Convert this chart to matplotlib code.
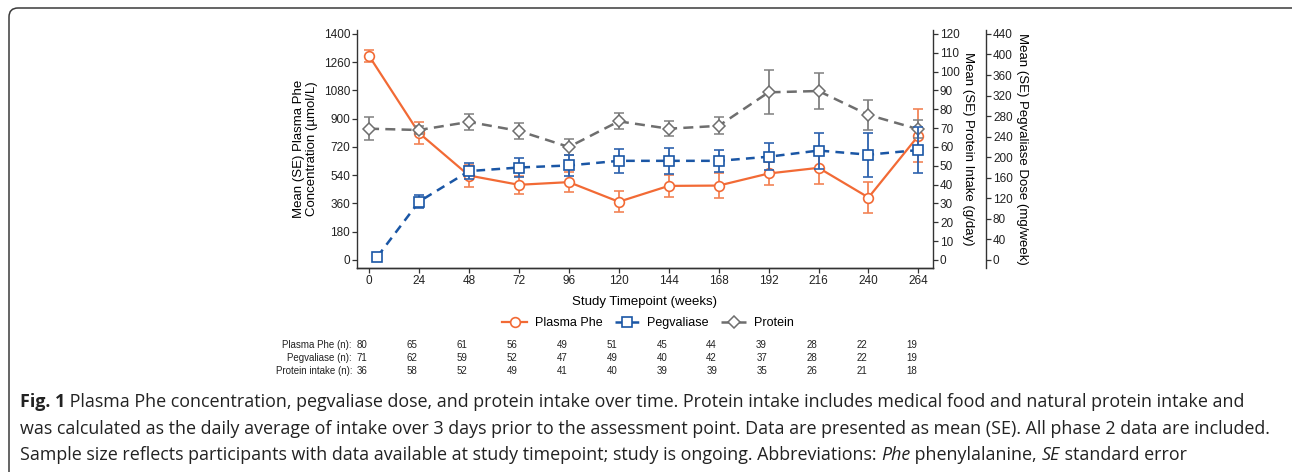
import matplotlib
matplotlib.use("Agg")
import matplotlib.pyplot as plt
import matplotlib.transforms as mtransforms
from matplotlib.patches import FancyBboxPatch
from matplotlib.lines import Line2D

plt.rcParams['font.family'] = ['Liberation Sans', 'DejaVu Sans']

weeks = [0, 24, 48, 72, 96, 120, 144, 168, 192, 216, 240, 264]
peg_weeks = [4, 24, 48, 72, 96, 120, 144, 168, 192, 216, 240, 264]

phe_mean = [1300, 809, 538, 479, 496, 371, 472, 474, 551, 587, 398, 792]
phe_se = [36, 67, 70, 58, 64, 68, 72, 80, 75, 100, 100, 167]

peg_mean = [6.5, 113.6, 173, 180, 184, 193, 193, 193, 201, 213, 205, 214]
peg_se = [0, 12, 15, 18, 21, 23, 25, 22, 26, 35, 43, 45]

protein_mean = [69.7, 69.0, 73.3, 68.5, 60.0, 73.6, 69.7, 71.2, 89.0, 89.7, 77.0, 69.4]
protein_se = [6.2, 2.0, 4.4, 4.3, 4.4, 4.3, 4.0, 4.5, 11.7, 9.8, 8.0, 4.7]

phe_ticks = [0, 180, 360, 540, 720, 900, 1080, 1260, 1440]
phe_tick_labels = ['0', '180', '360', '540', '720', '900', '1080', '1260', '1400']
protein_ticks = list(range(0, 121, 10))
peg_ticks = list(range(0, 441, 40))

n_labels = ['Plasma Phe (n):', 'Pegvaliase (n):', 'Protein intake (n):']
phe_n = [80, 65, 61, 56, 49, 51, 45, 44, 39, 28, 22, 19]
peg_n = [71, 62, 59, 52, 47, 49, 40, 42, 37, 28, 22, 19]
protein_n = [36, 58, 52, 49, 41, 40, 39, 39, 35, 26, 21, 18]

caption_lines = [
    [("Fig. 1", 'bold', 'normal'),
     (" Plasma Phe concentration, pegvaliase dose, and protein intake over time. "
      "Protein intake includes medical food and natural protein intake and", 'normal', 'normal')],
    [("was calculated as the daily average of intake over 3 days prior to the assessment point. "
      "Data are presented as mean (SE). All phase 2 data are included.", 'normal', 'normal')],
    [("Sample size reflects participants with data available at study timepoint; study is ongoing. "
      "Abbreviations: ", 'normal', 'normal'),
     ("Phe", 'normal', 'italic'), (" phenylalanine, ", 'normal', 'normal'),
     ("SE", 'normal', 'italic'), (" standard error", 'normal', 'normal')],
]

orange = '#F26A35'
blue = '#1A56A5'
gray = '#6E6E6E'
spine_c = '#333333'

W, H = 1292, 472
fig = plt.figure(figsize=(W / 100, H / 100), dpi=100)
ax = fig.add_axes([357 / W, 1 - 268 / H, 576 / W, 238 / H])
ax2 = ax.twinx()
ax3 = ax.twinx()

lo, hi = -51, 1465
ax.set_ylim(lo, hi)
ax2.set_ylim(lo / 12, hi / 12)
ax3.set_ylim(lo * 440 / 1440, hi * 440 / 1440)
ax.set_xlim(-5.8, 271)

phe_style = dict(color=orange, lw=1.6, marker='o', ms=7, mfc='white', mec=orange, mew=1.2)
protein_style = dict(color=gray, lw=1.8, ls=(0, (4, 2.5)), marker='D', ms=6.5,
                     mfc='white', mec=gray, mew=1.1)
peg_style = dict(color=blue, lw=1.8, ls=(0, (3.5, 2.5)), marker='s', ms=6.5,
                 mfc='white', mec=blue, mew=1.2)

ax.errorbar(weeks, phe_mean, yerr=phe_se, ecolor='#F28456', elinewidth=1.3,
            capsize=3.6, capthick=1.3, zorder=3, **phe_style)
ax2.errorbar(weeks, protein_mean, yerr=protein_se, ecolor='#808080', elinewidth=1.3,
             capsize=3.6, capthick=1.3, zorder=3, **protein_style)
ax3.errorbar(peg_weeks, peg_mean, yerr=peg_se, ecolor='#2D62AE', elinewidth=1.3,
             capsize=3.6, capthick=1.3, zorder=3, **peg_style)

for a in (ax, ax2, ax3):
    a.spines['top'].set_visible(False)
    for s in a.spines.values():
        s.set_color(spine_c)
        s.set_linewidth(1.0)
    a.tick_params(direction='out', length=3.5, width=0.9, colors=spine_c,
                  labelsize=8.5, labelcolor='#222222', pad=1.5)

ax.spines['right'].set_visible(False)
ax2.spines['left'].set_visible(False)
ax3.spines['left'].set_visible(False)
ax3.spines['bottom'].set_visible(False)
ax3.spines['right'].set_position(('outward', 53 * 0.72))

ax.set_xticks(weeks)
ax.set_xticklabels([str(w) for w in weeks])
ax.set_yticks(phe_ticks)
ax.set_yticklabels(phe_tick_labels)
ax2.set_yticks(protein_ticks)
ax3.set_yticks(peg_ticks)

ax.set_xlabel('Study Timepoint (weeks)', fontsize=9.5)
ax.xaxis.set_label_coords(0.5, -0.118)
ax.set_ylabel('Mean (SE) Plasma Phe\nConcentration (\u00b5mol/L)', fontsize=9.5, linespacing=1.05)
ax.yaxis.set_label_coords(-0.068, 0.5)
ax2.set_ylabel('Mean (SE) Protein Intake (g/day)', fontsize=9.5, rotation=270, va='center')
ax2.yaxis.set_label_coords(1.061, 0.5)
ax3.set_ylabel('Mean (SE) Pegvaliase Dose (mg/week)', fontsize=9.5, rotation=270, va='center')
ax3.yaxis.set_label_coords(1.1545, 0.5)

handles = [Line2D([], [], **phe_style), Line2D([], [], **peg_style),
           Line2D([], [], **protein_style)]
labels = ['Plasma Phe', 'Pegvaliase', 'Protein']
fig.legend(handles, labels, loc='center', bbox_to_anchor=(648 / W, 1 - 323 / H), ncol=3,
           frameon=False, fontsize=9, handlelength=2.0, columnspacing=1.0, handletextpad=0.6)

# sample size table
trans = mtransforms.blended_transform_factory(ax.transData, fig.transFigure)
trans = trans + mtransforms.ScaledTranslation(-7 / 100, 0, fig.dpi_scale_trans)
rows_y = [345, 358, 371]
for lab, vals, yy in zip(n_labels, [phe_n, peg_n, protein_n], rows_y):
    fig.text(352 / W, 1 - yy / H, lab, ha='right', va='center', fontsize=7, color='#222222')
    for w, v in zip(weeks, vals):
        fig.text(w, 1 - yy / H, str(v), ha='center', va='center', fontsize=7,
                 color='#222222', transform=trans)

# frame around figure + caption
box = FancyBboxPatch((9, -30), 1320, H - 8 + 30, boxstyle='round,pad=0,rounding_size=9',
                     transform=mtransforms.IdentityTransform(), fill=False,
                     ec='#3a3a3a', lw=1.1)
fig.add_artist(box)

renderer = fig.canvas.get_renderer()
cap_y = [402, 429, 455]
for line, yy in zip(caption_lines, cap_y):
    x = 20
    for txt, wt, st in line:
        t = fig.text(x / W, 1 - yy / H, txt, ha='left', va='center', fontsize=12.9,
                     family=['Open Sans', 'DejaVu Sans'], weight=wt, style=st, color='#222222')
        bb = t.get_window_extent(renderer)
        x += bb.width

fig.savefig('out.png', dpi=100)
